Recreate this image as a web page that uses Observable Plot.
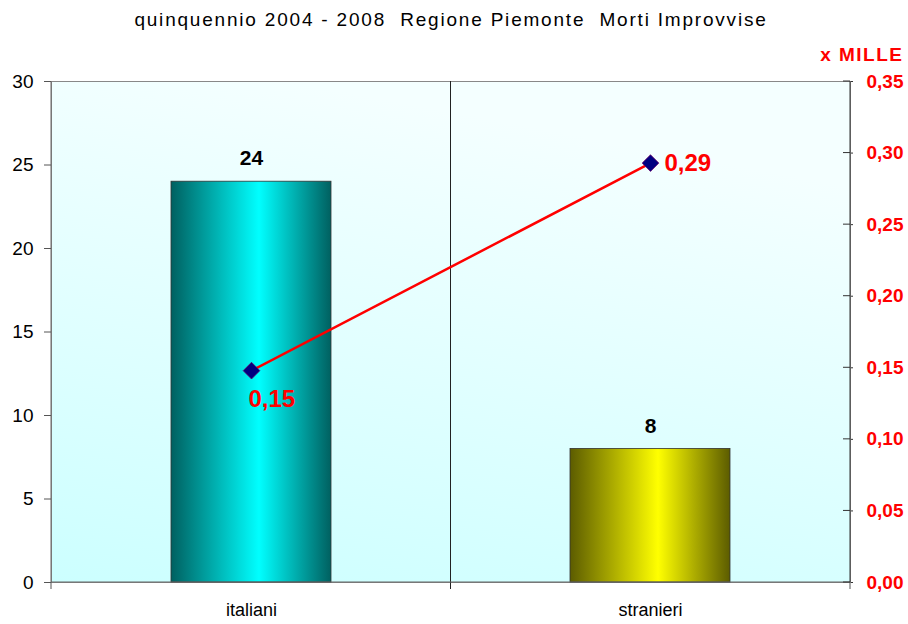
<!DOCTYPE html>
<html>
<head>
<meta charset="utf-8">
<script src="https://cdn.jsdelivr.net/npm/d3@7"></script>
<script src="https://cdn.jsdelivr.net/npm/@observablehq/plot@0.6"></script>
<style>
  body { margin: 0; background: #ffffff; }
  svg { font-family: "Liberation Sans", Arial, sans-serif; }
</style>
</head>
<body>
<div id="chart"></div>
<script>
const titleText = "quinquennio 2004 - 2008  Regione Piemonte  Morti Improvvise";
const rightAxisTitle = "x MILLE";
const categories = ["italiani", "stranieri"];
const deaths = [24, 8];
const rates = [0.148, 0.293];
const rateLabels = ["0,15", "0,29"];
const leftTicks = [0, 5, 10, 15, 20, 25, 30];
const rightTicks = [0, 0.05, 0.10, 0.15, 0.20, 0.25, 0.30, 0.35];
const rightTickLabels = ["0,00", "0,05", "0,10", "0,15", "0,20", "0,25", "0,30", "0,35"];
const gradients = ["url(#gTeal)", "url(#gYellow)"];

const leftMax = 30, rightMax = 0.35;
const k = leftMax / rightMax;

const rows = categories.map((c, i) => ({
  cat: c, deaths: deaths[i], rate: rates[i], rateLabel: rateLabels[i], grad: gradients[i]
}));

function defsMark() {
  const defs = d3.create("svg:defs");
  const addH = (id, edge, mid) => {
    const g = defs.append("linearGradient").attr("id", id).attr("x1", "0").attr("x2", "1").attr("y1", "0").attr("y2", "0");
    g.append("stop").attr("offset", "0%").attr("stop-color", edge);
    g.append("stop").attr("offset", "55%").attr("stop-color", mid);
    g.append("stop").attr("offset", "100%").attr("stop-color", edge);
  };
  addH("gTeal", "#006060", "#00ffff");
  addH("gYellow", "#5c5c00", "#ffff00");
  const bg = defs.append("linearGradient").attr("id", "gBg").attr("x1", "0.3").attr("x2", "0").attr("y1", "0").attr("y2", "1");
  bg.append("stop").attr("offset", "0%").attr("stop-color", "#f4ffff");
  bg.append("stop").attr("offset", "100%").attr("stop-color", "#ccffff");
  return defs.node();
}

function dividerMark(index, scales, values, dims) {
  const x = scales.x;
  const bw = x.bandwidth();
  const c0 = x(categories[0]), c1 = x(categories[1]);
  const mid = (c0 + bw + c1) / 2;
  const left = dims.marginLeft, right = dims.width - dims.marginRight;
  const top = dims.marginTop, bottom = dims.height - dims.marginBottom;
  const g = d3.create("svg:g").attr("stroke-width", 1).attr("fill", "none");
  g.append("line").attr("x1", mid).attr("x2", mid).attr("y1", top).attr("y2", bottom + 7).attr("stroke", "#222");
  g.append("line").attr("x1", left).attr("x2", left).attr("y1", bottom).attr("y2", bottom + 7).attr("stroke", "#555");
  g.append("line").attr("x1", right).attr("x2", right).attr("y1", bottom).attr("y2", bottom + 7).attr("stroke", "#555");
  g.append("line").attr("x1", left).attr("x2", left).attr("y1", top).attr("y2", bottom).attr("stroke", "#666");
  g.append("line").attr("x1", left).attr("x2", right).attr("y1", bottom).attr("y2", bottom).attr("stroke", "#666");
  g.append("line").attr("x1", right).attr("x2", right).attr("y1", top).attr("y2", bottom).attr("stroke", "#333");
  for (const t of rightTicks) {
    const y = scales.y(t * k);
    g.append("line").attr("x1", right - 7).attr("x2", right).attr("y1", y).attr("y2", y).attr("stroke", "#333");
  }
  return g.node();
}

const plot = Plot.plot({
  width: 908,
  height: 624,
  marginLeft: 51,
  marginRight: 58,
  marginTop: 81,
  marginBottom: 42,
  style: { fontFamily: "Liberation Sans, Arial, sans-serif", background: "#ffffff" },
  x: { domain: categories, paddingInner: 0.6, paddingOuter: 0.3, label: null },
  y: { domain: [0, leftMax], label: null },
  marks: [
    defsMark,
    Plot.frame({ fill: "url(#gBg)", stroke: "#888" }),
    Plot.barY(rows, { x: "cat", y: "deaths", fill: "grad", stroke: "#333", strokeWidth: 0.8 }),
    dividerMark,
    Plot.axisY({ anchor: "left", ticks: leftTicks, tickSize: 7, tickPadding: 11, fontSize: 19, stroke: "#555", color: "#000", label: null }),
    Plot.axisY({ anchor: "right", ticks: rightTicks.map(v => v * k), tickFormat: (d, i) => rightTickLabels[i], tickSize: 2, tickPadding: 14, fontSize: 19, fontWeight: "bold", fill: "#ff0000", stroke: "#333", label: null }),
    Plot.axisX({ tickSize: 0, tickPadding: 21, fontSize: 18, fill: "#000", label: null }),
    Plot.text(rows, { x: "cat", y: "deaths", text: d => String(d.deaths), dy: -23, fontSize: 21, fontWeight: "bold", fill: "#000" }),
    Plot.line(rows, { x: "cat", y: d => d.rate * k, stroke: "#ff0000", strokeWidth: 2.5 }),
    Plot.dot(rows, { x: "cat", y: d => d.rate * k, symbol: "diamond2", r: 7.5, fill: "#000080", stroke: "#6a006a", strokeWidth: 0.8 }),
    Plot.text(rows, { filter: d => d.cat === categories[0], x: "cat", y: d => d.rate * k, text: "rateLabel", textAnchor: "start", dx: -3, dy: 29, fontSize: 24, fontWeight: "bold", fill: "#ff0000" }),
    Plot.text(rows, { filter: d => d.cat === categories[1], x: "cat", y: d => d.rate * k, text: "rateLabel", textAnchor: "start", dx: 14, dy: 0, fontSize: 24, fontWeight: "bold", fill: "#ff0000" }),
    Plot.text([titleText], { frameAnchor: "top", lineAnchor: "middle", dy: -62, fontSize: 19, fill: "#000" }),
    Plot.text([rightAxisTitle], { frameAnchor: "top-right", lineAnchor: "middle", textAnchor: "end", dx: 53, dy: -27, fontSize: 19, fontWeight: "bold", fill: "#ff0000" })
  ]
});

const sel = d3.select(plot).selectAll("text");
sel.filter(function() { return this.textContent === titleText; })
  .style("white-space", "pre").style("letter-spacing", "1.8px");
sel.filter(function() { return this.textContent === rightAxisTitle; })
  .style("letter-spacing", "1.5px");
document.getElementById("chart").appendChild(plot);
</script>
</body>
</html>
